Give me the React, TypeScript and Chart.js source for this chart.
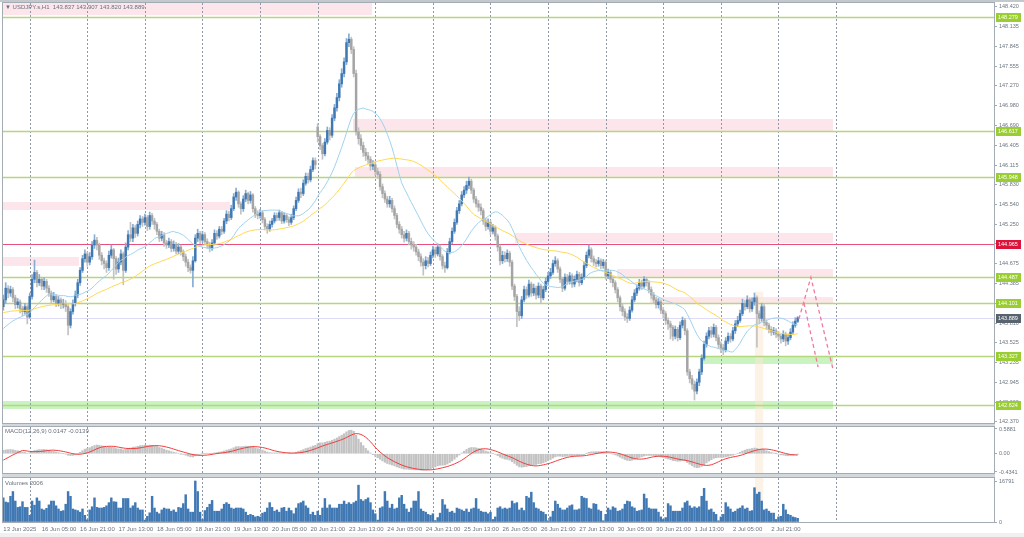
import React, { useEffect, useRef } from "react";
import { Chart, registerables } from "chart.js";
Chart.register(...registerables);

// ---------- DATA ----------
const opens = [
144.05,144.15,144.32,144.25,144.30,144.18,144.08,144.12,144.02,143.98,
144.05,143.90,144.20,144.45,144.55,144.40,144.45,144.35,144.42,144.32,
144.25,144.15,144.20,144.10,144.15,144.08,144.10,144.05,143.78,143.98,
144.10,144.22,144.40,144.58,144.75,144.82,144.70,144.78,144.95,145.02,
144.95,144.80,144.72,144.68,144.62,144.80,144.88,144.75,144.60,144.70,
144.82,144.58,144.92,145.10,145.05,145.20,145.12,145.25,145.33,145.28,
145.35,145.22,145.38,145.30,145.25,145.15,145.05,145.10,144.98,144.95,
145.00,144.90,144.96,144.86,144.92,144.85,144.78,144.70,144.62,144.58,
144.72,145.05,145.12,145.02,145.10,145.00,144.95,144.90,144.98,145.12,
145.08,145.18,145.15,145.30,145.40,145.35,145.48,145.65,145.72,145.55,
145.48,145.62,145.70,145.60,145.68,145.48,145.40,145.38,145.42,145.32,
145.22,145.18,145.25,145.30,145.38,145.35,145.42,145.30,145.38,145.32,
145.28,145.35,145.48,145.60,145.72,145.70,145.85,145.95,145.90,146.05,
146.18,146.67,146.53,146.40,146.28,146.45,146.62,146.55,146.80,146.95,
147.10,147.30,147.45,147.62,147.90,147.95,147.80,147.45,146.60,146.50,
146.40,146.30,146.25,146.20,146.10,146.12,146.02,145.98,145.80,145.70,
145.62,145.55,145.60,145.48,145.38,145.25,145.18,145.10,145.05,145.12,
145.00,144.95,144.92,144.85,144.78,144.70,144.65,144.72,144.68,144.80,
144.88,144.82,144.92,144.78,144.65,144.62,144.85,145.00,145.15,145.28,
145.45,145.55,145.68,145.75,145.82,145.88,145.75,145.62,145.55,145.50,
145.45,145.30,145.22,145.28,145.15,145.20,145.08,144.92,144.72,144.80,
144.75,144.83,144.70,144.35,144.20,143.98,143.92,144.15,144.30,144.22,
144.38,144.25,144.32,144.22,144.35,144.18,144.30,144.42,144.50,144.55,
144.68,144.72,144.60,144.45,144.32,144.48,144.42,144.50,144.38,144.45,
144.52,144.40,144.48,144.65,144.80,144.88,144.75,144.70,144.68,144.72,
144.65,144.70,144.50,144.55,144.45,144.40,144.30,144.18,144.05,143.98,
143.90,143.88,144.00,144.15,144.25,144.32,144.40,144.35,144.45,144.40,
144.30,144.22,144.15,144.08,144.12,144.00,143.95,143.85,143.80,143.75,
143.62,143.72,143.60,143.78,143.85,143.70,143.10,143.00,142.92,142.82,
142.95,143.10,143.30,143.50,143.62,143.70,143.65,143.75,143.60,143.50,
143.45,143.42,143.55,143.62,143.58,143.70,143.80,143.85,143.95,144.10,
144.05,144.15,144.02,144.12,144.18,143.95,143.88,144.05,143.82,143.78,
143.72,143.68,143.70,143.65,143.62,143.58,143.65,143.55,143.60,143.68,
143.78,143.837];

const closes = [
144.15,144.32,144.25,144.30,144.18,144.08,144.12,144.02,143.98,144.05,
143.90,144.20,144.45,144.55,144.40,144.45,144.35,144.42,144.32,144.25,
144.15,144.20,144.10,144.15,144.08,144.10,144.05,143.78,143.98,144.10,
144.22,144.40,144.58,144.75,144.82,144.70,144.78,144.95,145.02,144.95,
144.80,144.72,144.68,144.62,144.80,144.88,144.75,144.60,144.70,144.82,
144.58,144.92,145.10,145.05,145.20,145.12,145.25,145.33,145.28,145.35,
145.22,145.38,145.30,145.25,145.15,145.05,145.10,144.98,144.95,145.00,
144.90,144.96,144.86,144.92,144.85,144.78,144.70,144.62,144.58,144.72,
145.05,145.12,145.02,145.10,145.00,144.95,144.90,144.98,145.12,145.08,
145.18,145.15,145.30,145.40,145.35,145.48,145.65,145.72,145.55,145.48,
145.62,145.70,145.60,145.68,145.48,145.40,145.38,145.42,145.32,145.22,
145.18,145.25,145.30,145.38,145.35,145.42,145.30,145.38,145.32,145.28,
145.35,145.48,145.60,145.72,145.70,145.85,145.95,145.90,146.05,146.18,
146.12,146.53,146.40,146.28,146.45,146.62,146.55,146.80,146.95,147.10,
147.30,147.45,147.62,147.90,147.95,147.80,147.45,146.60,146.50,146.40,
146.30,146.25,146.20,146.10,146.12,146.02,145.98,145.80,145.70,145.62,
145.55,145.60,145.48,145.38,145.25,145.18,145.10,145.05,145.12,145.00,
144.95,144.92,144.85,144.78,144.70,144.65,144.72,144.68,144.80,144.88,
144.82,144.92,144.78,144.65,144.62,144.85,145.00,145.15,145.28,145.45,
145.55,145.68,145.75,145.82,145.88,145.75,145.62,145.55,145.50,145.45,
145.30,145.22,145.28,145.15,145.20,145.08,144.92,144.72,144.80,144.75,
144.83,144.70,144.35,144.20,143.98,143.92,144.15,144.30,144.22,144.38,
144.25,144.32,144.22,144.35,144.18,144.30,144.42,144.50,144.55,144.68,
144.72,144.60,144.45,144.32,144.48,144.42,144.50,144.38,144.45,144.52,
144.40,144.48,144.65,144.80,144.88,144.75,144.70,144.68,144.72,144.65,
144.70,144.50,144.55,144.45,144.40,144.30,144.18,144.05,143.98,143.90,
143.88,144.00,144.15,144.25,144.32,144.40,144.35,144.45,144.40,144.30,
144.22,144.15,144.08,144.12,144.00,143.95,143.85,143.80,143.75,143.62,
143.72,143.60,143.78,143.85,143.70,143.10,143.00,142.92,142.82,142.95,
143.10,143.30,143.50,143.62,143.70,143.65,143.75,143.60,143.50,143.45,
143.42,143.55,143.62,143.58,143.70,143.80,143.85,143.95,144.10,144.05,
144.15,144.02,144.12,144.18,143.95,143.88,144.05,143.82,143.78,143.72,
143.68,143.70,143.65,143.62,143.58,143.65,143.55,143.60,143.68,143.78,
143.84,143.889];

const highs = [
144.22,144.40,144.36,144.35,144.33,144.22,144.17,144.15,144.06,144.10,
144.08,144.25,144.52,144.73,144.58,144.52,144.48,144.47,144.45,144.36,
144.28,144.26,144.23,144.20,144.18,144.16,144.14,144.08,144.02,144.15,
144.28,144.45,144.62,144.80,144.88,144.85,144.84,145.00,145.10,145.06,
144.98,144.84,144.76,144.72,144.86,144.95,144.90,144.78,144.76,144.88,
144.85,144.98,145.16,145.28,145.25,145.24,145.30,145.38,145.37,145.40,
145.38,145.43,145.41,145.34,145.28,145.18,145.15,145.13,145.02,145.05,
145.03,145.01,144.99,144.97,144.95,144.88,144.82,144.74,144.66,144.78,
145.10,145.18,145.15,145.15,145.13,145.04,144.99,145.03,145.17,145.16,
145.22,145.22,145.34,145.45,145.44,145.53,145.70,145.78,145.74,145.58,
145.67,145.75,145.72,145.73,145.70,145.51,145.45,145.47,145.45,145.35,
145.26,145.30,145.34,145.42,145.42,145.46,145.44,145.42,145.41,145.36,
145.40,145.52,145.65,145.77,145.78,145.90,146.00,146.00,146.10,146.22,
146.22,146.72,146.56,146.43,146.50,146.67,146.66,146.85,147.00,147.16,
147.36,147.52,147.68,147.96,148.03,147.98,147.84,147.50,146.66,146.56,
146.45,146.36,146.30,146.24,146.18,146.16,146.07,146.02,145.84,145.74,
145.66,145.66,145.63,145.52,145.41,145.29,145.22,145.15,145.17,145.15,
145.05,145.00,144.96,144.89,144.82,144.75,144.78,144.77,144.85,144.93,
144.92,144.97,144.95,144.81,144.70,144.90,145.05,145.20,145.33,145.50,
145.60,145.73,145.80,145.88,145.94,145.91,145.78,145.66,145.60,145.55,
145.48,145.34,145.33,145.31,145.25,145.23,145.11,144.95,144.86,144.85,
144.88,144.86,144.73,144.38,144.23,144.05,144.20,144.35,144.34,144.44,
144.41,144.38,144.35,144.40,144.38,144.35,144.47,144.55,144.61,144.73,
144.78,144.75,144.63,144.48,144.53,144.52,144.55,144.53,144.50,144.57,
144.55,144.53,144.70,144.85,144.95,144.91,144.79,144.74,144.77,144.75,
144.74,144.73,144.60,144.58,144.49,144.43,144.33,144.21,144.09,144.02,
143.95,144.05,144.20,144.30,144.37,144.45,144.44,144.49,144.48,144.43,
144.34,144.26,144.19,144.17,144.15,144.04,143.98,143.89,143.84,143.78,
143.77,143.75,143.83,143.90,143.88,143.73,143.14,143.05,142.97,143.00,
143.14,143.35,143.55,143.67,143.75,143.76,143.80,143.78,143.64,143.54,
143.50,143.60,143.67,143.66,143.75,143.85,143.91,144.00,144.16,144.14,
144.21,144.18,144.18,144.25,144.21,143.99,144.10,144.08,143.86,143.81,
143.76,143.75,143.73,143.69,143.65,143.70,143.68,143.65,143.73,143.83,
143.89,143.907];

const lows = [
144.00,144.10,144.18,144.20,144.12,144.02,144.03,143.96,143.92,143.94,
143.80,143.88,144.16,144.40,144.34,144.36,144.30,144.30,144.26,144.20,
144.10,144.12,144.05,144.06,144.02,144.03,143.98,143.64,143.74,143.94,
144.06,144.18,144.36,144.55,144.70,144.64,144.66,144.74,144.90,144.88,
144.74,144.66,144.60,144.55,144.58,144.76,144.45,144.52,144.55,144.66,
144.37,144.55,144.88,145.00,145.00,145.06,145.08,145.20,145.22,145.24,
145.16,145.18,145.25,145.18,145.10,145.00,145.01,144.93,144.90,144.91,
144.85,144.86,144.82,144.82,144.80,144.72,144.64,144.56,144.54,144.34,
144.70,145.00,144.97,144.98,144.95,144.90,144.85,144.87,144.95,145.03,
145.05,145.10,145.12,145.26,145.30,145.32,145.45,145.60,145.50,145.40,
145.44,145.58,145.55,145.56,145.43,145.35,145.33,145.34,145.27,145.17,
145.12,145.15,145.21,145.27,145.30,145.31,145.26,145.27,145.28,145.23,
145.25,145.32,145.45,145.57,145.64,145.67,145.82,145.85,145.87,146.02,
146.06,146.45,146.34,146.20,146.25,146.42,146.48,146.52,146.76,146.90,
147.05,147.25,147.40,147.58,147.84,147.74,147.40,146.55,146.42,146.34,
146.24,146.18,146.14,146.04,146.05,145.97,145.92,145.75,145.64,145.57,
145.50,145.50,145.43,145.33,145.20,145.12,145.05,144.99,145.01,144.95,
144.89,144.86,144.80,144.72,144.64,144.51,144.60,144.63,144.65,144.76,
144.77,144.79,144.73,144.60,144.55,144.60,144.82,144.97,145.12,145.25,
145.41,145.52,145.64,145.70,145.77,145.70,145.57,145.50,145.44,145.39,
145.25,145.16,145.18,145.10,145.11,145.02,144.86,144.66,144.68,144.70,
144.71,144.64,144.30,144.14,143.76,143.85,143.88,144.12,144.17,144.19,
144.20,144.21,144.16,144.18,144.10,144.15,144.27,144.38,144.46,144.52,
144.64,144.55,144.40,144.27,144.29,144.37,144.38,144.33,144.34,144.41,
144.35,144.37,144.45,144.62,144.76,144.70,144.65,144.63,144.64,144.60,
144.61,144.45,144.46,144.40,144.34,144.25,144.12,143.99,143.92,143.85,
143.82,143.85,143.97,144.12,144.21,144.29,144.30,144.32,144.35,144.25,
144.17,144.10,144.03,144.03,143.95,143.89,143.79,143.72,143.58,143.56,
143.58,143.55,143.57,143.74,143.64,143.05,142.94,142.85,142.69,142.78,
142.90,143.06,143.27,143.46,143.58,143.60,143.61,143.55,143.44,143.38,
143.35,143.39,143.51,143.53,143.55,143.66,143.76,143.82,143.92,144.00,
144.02,143.97,143.98,144.07,143.46,143.80,143.84,143.77,143.72,143.67,
143.63,143.64,143.60,143.57,143.52,143.54,143.48,143.50,143.57,143.65,
143.75,143.820];

const volumes = [
9880,8190,7930,10530,12480,8580,5980,6240,8320,5980,
5980,2730,8580,6890,9880,8580,5330,4940,5590,7020,
8580,8580,6630,5330,4420,4680,7280,12480,10530,5330,
4940,4680,4030,5330,2730,900,4940,6240,9880,5980,
5720,5720,5980,6630,7930,9880,8320,8190,5720,5720,
9620,9620,9620,5720,6630,7930,5720,4940,4940,780,
2340,3770,10530,5720,4030,3380,4940,5720,5330,5330,
4420,4940,4030,5980,5720,7540,11180,5330,4030,4030,
16791,12480,4030,1040,4680,5980,7280,8840,4420,4420,
4420,5330,7280,7930,7280,5720,5330,5720,5720,5720,
5330,4030,2730,3120,2730,2080,2340,2080,3640,4030,
5720,7930,5980,4420,4940,4030,5720,5980,4420,5720,
4680,3380,5720,7540,7930,8580,6630,5720,3120,4030,
2730,4420,2730,5720,9620,5720,7020,5720,5720,5720,
7280,7280,8580,7280,7930,7280,7930,8580,15080,9230,
8580,9230,9880,7930,4940,3380,780,5720,6240,12480,
8580,5720,7280,5330,5720,9880,10920,7280,5330,4030,
5720,8580,8580,12480,5330,4420,4030,3120,2730,3380,
600,1820,3640,9230,7020,5330,4030,4420,3640,5720,
5330,4940,4420,5330,4030,5330,5720,9620,5330,4420,
4030,4030,3380,4030,1040,2080,5720,6240,5330,5720,
5330,5720,8580,7540,7930,4940,5720,4680,10530,9880,
12220,7930,5720,5330,4420,4030,3120,520,2080,4420,
8580,7280,5720,4940,4940,5720,6630,7020,4940,4940,
5330,10530,9880,9620,5720,5330,7540,7280,4940,4420,
520,3120,5720,4940,6240,5720,4420,4680,5330,7280,
8580,8320,6240,5720,4420,4680,4940,11440,9620,5720,
5330,5330,5330,4030,2080,1040,1820,7540,6630,4420,
4420,4420,4420,5720,7930,8580,6630,5720,6240,5720,
6240,10530,13780,8580,4940,5330,4030,3120,520,2080,
3120,7930,6240,5330,4030,4420,5330,5720,6630,5330,
5720,4420,4680,14040,11440,12220,8580,4940,5330,4420,
3640,3640,1040,2080,2340,7280,4940,3120,2730,2080,
1820,1500];

const xLabelBars = [0,16,32,48,64,80,96,112,128,144,160,176,192,208,224,240,256,272,288,304,320];
const xLabels = ["13 Jun 2025","16 Jun 05:00","16 Jun 21:00","17 Jun 13:00","18 Jun 05:00","18 Jun 21:00",
  "19 Jun 13:00","20 Jun 05:00","20 Jun 21:00","23 Jun 13:00","24 Jun 05:00","24 Jun 21:00","25 Jun 13:00",
  "26 Jun 05:00","26 Jun 21:00","27 Jun 13:00","30 Jun 05:00","30 Jun 21:00","1 Jul 13:00","2 Jul 05:00","2 Jul 21:00"];
const dayStartBars = [11,35,59,83,107,131,155,179,203,227,251,275,299,323,347];

const priceTicks = [148.420,148.135,147.845,147.555,147.270,146.980,146.690,146.405,146.115,145.830,145.540,
  145.250,144.965,144.675,144.385,144.100,143.810,143.525,143.235,142.945,142.660,142.370];
const macdTicks = [0.5881, 0, -0.4341];
const macdTickLabels = ["0.5881", "0.00", "-0.4341"];
const volTicks = [16791, 0];

const greenLevels = [148.279, 146.617, 145.948, 144.487, 144.101, 143.327, 142.624];
const redLevel = 144.965;
const lastPrice = 143.889;

const pinkZoneFrom = [-0.2, 145.7, 146.5, -0.2, -0.2, 213.2, 255.7, 269.5];
const pinkZoneTo = [153.6, 345.7, 345.7, 94.5, 31.5, 345.7, 345.7, 345.7];
const pinkZoneHigh = [148.48, 146.787, 146.088, 145.577, 144.776, 145.126, 144.6, 144.19];
const pinkZoneLow = [148.3, 146.612, 145.942, 145.46, 144.645, 144.98, 144.485, 144.105];
const greenZoneFrom = [291.5, -0.2];
const greenZoneTo = [345.7, 345.7];
const greenZoneHigh = [143.318, 142.676];
const greenZoneLow = [143.216, 142.56];

const bandFrom = 313.2;
const bandTo = 316.6;
const bandTop = 144.27;

const arrowAX = [331.5, 336.5, 345.7];
const arrowAY = [143.87, 144.48, 143.14];
const arrowBX = [333.6, 339.5];
const arrowBY = [144.105, 143.17];

// seeds for indicators (values at the left edge, history not shown)
const fastSeed = 143.71;
const slowSeed = 143.96;
const ema12Seed = 144.08;
const ema26Seed = 144.0;
const signalSeed = -0.18;

// ---------- INDICATORS ----------
function smaSeeded(vals: number[], period: number, seed: number) {
  return vals.map((_, i) => {
    let s = 0;
    for (let k = i - period + 1; k <= i; k++) s += k >= 0 ? vals[k] : seed;
    return s / period;
  });
}
function emaSeeded(vals: number[], period: number, seed: number) {
  const a = 2 / (period + 1);
  let prev = seed;
  return vals.map((v) => (prev = prev + a * (v - prev)));
}
const maFast = smaSeeded(closes, 20, fastSeed);
const maSlow = smaSeeded(closes, 50, slowSeed);
const ema12 = emaSeeded(closes, 12, ema12Seed);
const ema26 = emaSeeded(closes, 26, ema26Seed);
const macdMain = ema12.map((v, i) => v - ema26[i]);
const macdSignal = smaSeeded(macdMain, 9, signalSeed);

// ---------- STYLE ----------
const X_MIN = -0.125;
const X_MAX = 412.8;
const FONT = "'Liberation Sans', Arial, sans-serif";
const AXIS_TEXT = "#6b7580";
const FRAME = "#a3abb4";
const BAND = "rgba(250,232,210,0.55)";
const PINK = "#fce6eb";
const GREENZ = "#c9f3c0";

const fitY = (s: any) => {
  s.width = 30;
  s.paddingTop = 0;
  s.paddingBottom = 0;
};
const xScale = { type: "linear", min: X_MIN, max: X_MAX, display: false, offset: false };

function clipArea(ctx: CanvasRenderingContext2D, a: any) {
  ctx.beginPath();
  ctx.rect(a.left, a.top, a.right - a.left, a.bottom - a.top);
  ctx.clip();
}
function drawGrid(chart: any) {
  const { ctx, chartArea: a, scales } = chart;
  const x = scales.x;
  ctx.save();
  ctx.strokeStyle = "#8f99a6";
  ctx.lineWidth = 1;
  ctx.setLineDash([2, 2]);
  dayStartBars.forEach((b) => {
    const px = Math.round(x.getPixelForValue(b)) + 0.5;
    if (px < a.left || px > a.right) return;
    ctx.beginPath();
    ctx.moveTo(px, a.top);
    ctx.lineTo(px, a.bottom);
    ctx.stroke();
  });
  ctx.restore();
}
function drawBand(chart: any, topPx: number | null) {
  const { ctx, chartArea: a, scales } = chart;
  const x = scales.x;
  const x0 = x.getPixelForValue(bandFrom);
  const x1 = x.getPixelForValue(bandTo);
  const t = topPx == null ? a.top : topPx;
  ctx.fillStyle = BAND;
  ctx.fillRect(x0, t, x1 - x0, a.bottom - t);
}
function drawFrame(chart: any, sepTop: boolean) {
  const { ctx, chartArea: a } = chart;
  ctx.save();
  if (sepTop) {
    ctx.fillStyle = "#d3d8dd";
    ctx.fillRect(a.left - 1, 0, a.right - a.left + 2, a.top);
  }
  ctx.strokeStyle = FRAME;
  ctx.lineWidth = 1;
  ctx.strokeRect(a.left - 0.5, a.top - 0.5, a.right - a.left + 1, a.bottom - a.top + 1);
  ctx.restore();
}

const mainPlugin = {
  id: "mainDecor",
  beforeDatasetsDraw(chart: any) {
    const { ctx, chartArea: a, scales } = chart;
    const x = scales.x, y = scales.y;
    ctx.save();
    clipArea(ctx, a);
    const zone = (f: number, t: number, hi: number, lo: number, col: string) => {
      const x0 = x.getPixelForValue(f), x1 = x.getPixelForValue(t);
      const y0 = y.getPixelForValue(hi), y1 = y.getPixelForValue(lo);
      ctx.fillStyle = col;
      ctx.fillRect(x0, y0, x1 - x0, y1 - y0);
    };
    pinkZoneFrom.forEach((f, i) => zone(f, pinkZoneTo[i], pinkZoneHigh[i], pinkZoneLow[i], PINK));
    greenZoneFrom.forEach((f, i) => zone(f, greenZoneTo[i], greenZoneHigh[i], greenZoneLow[i], GREENZ));
    drawBand(chart, y.getPixelForValue(bandTop));
    ctx.restore();
    drawGrid(chart);
    ctx.save();
    clipArea(ctx, a);
    const hline = (v: number, col: string, w: number) => {
      const py = Math.round(y.getPixelForValue(v)) + 0.5;
      ctx.strokeStyle = col;
      ctx.lineWidth = w;
      ctx.beginPath();
      ctx.moveTo(a.left, py);
      ctx.lineTo(a.right, py);
      ctx.stroke();
    };
    hline(lastPrice, "#dedcf6", 1);
    greenLevels.forEach((v) => hline(v, "#b6d67e", 1.3));
    hline(redLevel, "#e6507a", 1.2);
    ctx.restore();
  },
  afterDraw(chart: any) {
    const { ctx, chartArea: a, scales } = chart;
    const y = scales.y;
    drawFrame(chart, false);
    const box = (v: number, bg: string) => {
      const py = y.getPixelForValue(v);
      ctx.fillStyle = bg;
      ctx.fillRect(a.right + 2, Math.round(py) - 4, 25, 9);
      ctx.fillStyle = "#ffffff";
      ctx.font = `5.5px ${FONT}`;
      ctx.textBaseline = "middle";
      ctx.textAlign = "left";
      ctx.fillText(v.toFixed(3), a.right + 4, Math.round(py) + 0.5);
    };
    greenLevels.forEach((v) => box(v, "#9acd32"));
    box(redLevel, "#dc143c");
    box(lastPrice, "#59636e");
  },
};

const macdPlugin = {
  id: "macdDecor",
  beforeDatasetsDraw(chart: any) {
    drawBand(chart, null);
    drawGrid(chart);
  },
  afterDraw(chart: any) { drawFrame(chart, true); },
};
const volPlugin = {
  id: "volDecor",
  beforeDatasetsDraw(chart: any) {
    drawBand(chart, null);
    drawGrid(chart);
  },
  afterDraw(chart: any) {
    drawFrame(chart, true);
    const { ctx, chartArea: a, scales } = chart;
    const x = scales.x;
    ctx.save();
    ctx.font = `6px ${FONT}`;
    ctx.fillStyle = AXIS_TEXT;
    ctx.textAlign = "left";
    ctx.textBaseline = "middle";
    xLabelBars.forEach((b, i) => {
      ctx.fillText(xLabels[i], x.getPixelForValue(b), a.bottom + 7);
    });
    ctx.restore();
  },
};

const yTickStyle = (size: number) => ({
  font: { size, family: FONT },
  color: AXIS_TEXT,
  padding: 2,
});
const yGrid = { drawOnChartArea: false, drawTicks: true, tickLength: 3, color: FRAME };

function baseOptions(padding: any) {
  return {
    animation: false as const,
    responsive: false,
    maintainAspectRatio: false,
    events: [] as any[],
    layout: { padding },
    plugins: { legend: { display: false }, tooltip: { enabled: false } },
  };
}

export default function App() {
  const mainRef = useRef<HTMLCanvasElement>(null);
  const macdRef = useRef<HTMLCanvasElement>(null);
  const volRef = useRef<HTMLCanvasElement>(null);

  useEffect(() => {
    const bull = closes.map((c, i) => c >= opens[i]);
    const bodies = closes.map((c, i) => ({ x: i, y: [opens[i], c] }));
    const wicks = closes.map((_, i) => ({ x: i, y: [lows[i], highs[i]] }));

    const main = new Chart(mainRef.current as HTMLCanvasElement, {
      type: "bar",
      data: {
        datasets: [
          { type: "line", label: "Projection A", data: arrowAX.map((v, i) => ({ x: v, y: arrowAY[i] })),
            borderColor: "#f27a9c", borderWidth: 1.3, borderDash: [4, 3], pointRadius: 0, order: 0 } as any,
          { type: "line", label: "Projection B", data: arrowBX.map((v, i) => ({ x: v, y: arrowBY[i] })),
            borderColor: "#f27a9c", borderWidth: 1.3, borderDash: [4, 3], pointRadius: 0, order: 0 } as any,
          { type: "line", label: "MA fast", data: maFast.map((v, i) => ({ x: i, y: v })),
            borderColor: "#9fd2ee", borderWidth: 1, pointRadius: 0, order: 1 } as any,
          { type: "line", label: "MA slow", data: maSlow.map((v, i) => ({ x: i, y: v })),
            borderColor: "#ffd84f", borderWidth: 1, pointRadius: 0, order: 1 } as any,
          { type: "bar", label: "Body", data: bodies as any,
            backgroundColor: bull.map((b) => (b ? "#3f78b3" : "#a4a4a4")),
            barThickness: 1.8, grouped: false, order: 2 } as any,
          { type: "bar", label: "Wick", data: wicks as any,
            backgroundColor: bull.map((b) => (b ? "#86acd3" : "#c2c2c2")),
            barThickness: 1, grouped: false, order: 3 } as any,
        ],
      },
      options: {
        ...baseOptions({ left: 3, top: 3, right: 0, bottom: 3 }),
        scales: {
          x: xScale,
          y: {
            position: "right", min: 142.355, max: 148.478,
            afterFit: fitY,
            afterBuildTicks: (s: any) => { s.ticks = priceTicks.map((v) => ({ value: v })); },
            ticks: { ...yTickStyle(5.5), callback: (v: any) => Number(v).toFixed(3) },
            grid: yGrid,
            border: { display: true, color: FRAME },
          },
        },
      } as any,
      plugins: [mainPlugin],
    });

    const macd = new Chart(macdRef.current as HTMLCanvasElement, {
      type: "bar",
      data: {
        datasets: [
          { type: "line", label: "Signal", data: macdSignal.map((v, i) => ({ x: i, y: v })),
            borderColor: "#f03c3c", borderWidth: 1, pointRadius: 0, order: 0 } as any,
          { type: "bar", label: "MACD", data: macdMain.map((v, i) => ({ x: i, y: v })),
            backgroundColor: "#c3c3c3", barThickness: 1.6, grouped: false, order: 1 } as any,
        ],
      },
      options: {
        ...baseOptions({ left: 3, top: 3, right: 0, bottom: 1 }),
        scales: {
          x: xScale,
          y: {
            position: "right", min: -0.4579, max: 0.6356,
            afterFit: fitY,
            afterBuildTicks: (s: any) => { s.ticks = macdTicks.map((v) => ({ value: v })); },
            ticks: { ...yTickStyle(5.5), callback: (_v: any, idx: number) => macdTickLabels[idx] },
            grid: yGrid,
            border: { display: true, color: FRAME },
          },
        },
      } as any,
      plugins: [macdPlugin],
    });

    const vol = new Chart(volRef.current as HTMLCanvasElement, {
      type: "bar",
      data: {
        datasets: [
          { type: "bar", label: "Volumes", data: volumes.map((v, i) => ({ x: i, y: v })),
            backgroundColor: "#3f78b3", barThickness: 1.8, grouped: false } as any,
        ],
      },
      options: {
        ...baseOptions({ left: 3, top: 4, right: 0, bottom: 15 }),
        scales: {
          x: xScale,
          y: {
            position: "right", min: 0, max: 18020,
            afterFit: fitY,
            afterBuildTicks: (s: any) => { s.ticks = volTicks.map((v) => ({ value: v })); },
            ticks: { ...yTickStyle(5.5), callback: (v: any) => String(v) },
            grid: yGrid,
            border: { display: true, color: FRAME },
          },
        },
      } as any,
      plugins: [volPlugin],
    });

    return () => { main.destroy(); macd.destroy(); vol.destroy(); };
  }, []);

  const label: React.CSSProperties = {
    position: "absolute", fontFamily: FONT, fontSize: "6px", lineHeight: "8px",
    color: "#66707b", whiteSpace: "pre", pointerEvents: "none",
  };

  return (
    <div style={{ position: "absolute", left: 0, top: 0, width: 1024, height: 537, background: "#ffffff", overflow: "hidden" }}>
      <canvas ref={macdRef} width={1024} height={50} style={{ position: "absolute", left: 0, top: 424 }} />
      <canvas ref={volRef} width={1024} height={63} style={{ position: "absolute", left: 0, top: 474 }} />
      <canvas ref={mainRef} width={1024} height={426} style={{ position: "absolute", left: 0, top: 0 }} />
      <div style={{ position: "absolute", left: 0, top: 0, width: 1024, height: 2, background: "#c3c8cd" }} />
      <div style={{ position: "absolute", left: 0, top: 533, width: 1024, height: 4, background: "#f0f0f0" }} />
      <div style={{ ...label, left: 5, top: 3 }}>{"▼ USDJPY.s,H1  143.837 143.907 143.820 143.889"}</div>
      <div style={{ ...label, left: 5, top: 427 }}>{"MACD(12,26,9) 0.0147 -0.0139"}</div>
      <div style={{ ...label, left: 5, top: 479 }}>{"Volumes 2006"}</div>
    </div>
  );
}
